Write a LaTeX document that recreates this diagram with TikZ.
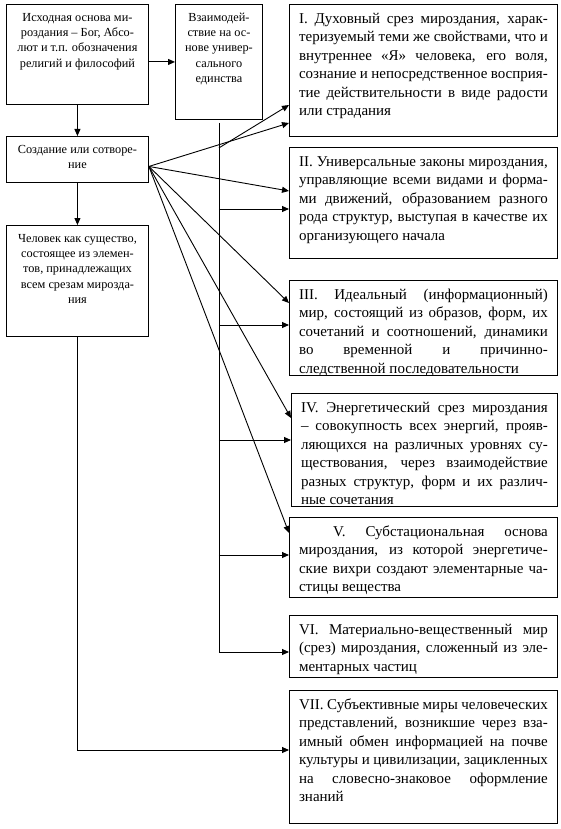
\documentclass[tikz,border=0pt]{standalone}
\usepackage{fontspec}
\setmainfont{Liberation Serif}
\usetikzlibrary{arrows.meta}

% one centred line, one justified line
\newcommand{\cl}[1]{\makebox[\linewidth]{#1}\par}
\newcommand{\jl}[1]{\makebox[\linewidth][s]{#1}\par}
\newcommand{\basetext}[3]{\parbox[t][#2][t]{#1}{\rule{0pt}{11.9pt}#3}}
\newcommand{\slicetext}[3]{\parbox[t][#2][t]{#1}{\rule{0pt}{14.3pt}#3}}

\tikzset{
  frame/.style={draw, line width=0.9pt, anchor=north west, inner xsep=9.6pt, inner ysep=4.8pt},
  base/.style={frame, font=\fontsize{12.3}{15.3}\selectfont},
  slice/.style={frame, font=\fontsize{15}{18.4}\selectfont},
  link/.style={-{Triangle[length=7pt,width=6pt]}, line width=0.9pt}
}

\begin{document}
\begin{tikzpicture}[x=1pt,y=-1pt]
    \useasboundingbox (0,0) rectangle (561,829);
    % left column
    \node[base] (origin) at (6,4) {\basetext{122.8pt}{90.4pt}{\cl{Исходная основа ми-}\cl{роздания – Бог, Абсо-}\cl{лют и т.п. обозначения}\cl{религий и философий}}};
    \node[base] (unity) at (175,4) {\basetext{67.8pt}{105.4pt}{\cl{Взаимодей-}\cl{ствие на ос-}\cl{нове универ-}\cl{сального}\cl{единства}}};
    \node[base] (creation) at (6,136) {\basetext{122.8pt}{36.4pt}{\cl{Создание или сотворе-}\cl{ние}}};
    \node[base] (human) at (6,225) {\basetext{122.8pt}{101.4pt}{\cl{Человек как существо,}\cl{состоящее из элемен-}\cl{тов, принадлежащих}\cl{всем срезам мирозда-}\cl{ния}}};

    % slices of the universe
    \node[slice] (s1) at (289,4) {\slicetext{248.8pt}{122.4pt}{\jl{I. Духовный срез мироздания, харак-}\jl{теризуемый теми же свойствами, что и}\jl{внутреннее «Я» человека, его воля,}\jl{сознание и непосредственное восприя-}\jl{тие действительности в виде радости}или страдания}};
    \node[slice] (s2) at (289,147) {\slicetext{248.8pt}{101.4pt}{\jl{II. Универсальные законы мироздания,}\jl{управляющие всеми видами и форма-}\jl{ми движений, образованием разного}\jl{рода структур, выступая в качестве их}организующего начала}};
    \node[slice] (s3) at (289,280) {\slicetext{248.8pt}{85.4pt}{\jl{III. Идеальный (информационный)}\jl{мир, состоящий из образов, форм, их}\jl{сочетаний и соотношений, динамики}\jl{во временной и причинно-}следственной последовательности}};
    \node[slice] (s4) at (291,393) {\slicetext{246.8pt}{103.4pt}{\jl{IV. Энергетический срез мироздания}\jl{– совокупность всех энергий, прояв-}\jl{ляющихся на различных уровнях су-}\jl{ществования, через взаимодействие}\jl{разных структур, форм и их различ-}ные сочетания}};
    \node[slice] (s5) at (289,517) {\slicetext{248.8pt}{70.4pt}{\jl{\hspace*{34pt}V. Субстациональная основа}\jl{мироздания, из которой энергетиче-}\jl{ские вихри создают элементарные ча-}стицы вещества}};
    \node[slice] (s6) at (289,615) {\slicetext{248.8pt}{52.4pt}{\jl{VI. Материально-вещественный мир}\jl{(срез) мироздания, сложенный из эле-}ментарных частиц}};
    \node[slice] (s7) at (289,690) {\slicetext{248.8pt}{123.4pt}{\jl{VII. Субъективные миры человеческих}\jl{представлений, возникшие через вза-}\jl{имный обмен информацией на почве}\jl{культуры и цивилизации, зацикленных}\jl{на словесно-знаковое оформление}знаний}};

    % left column links
    \draw[link] (origin.east |- unity.west) -- (unity.west);
    \draw[link] (origin) -- (creation);
    \draw[link] (creation) -- (human);

    % rays from creation
    \coordinate (src) at ([yshift=-7pt]creation.east);
    \coordinate (c1) at ([yshift=-119pt]s1.north west);
    \draw[link] (src) -- (c1);

    % spine from the unity box
    \coordinate (b1) at ([yshift=-101pt]s1.north west);
    \coordinate (b6) at ([yshift=-37pt]s6.north west);
    \coordinate (fork) at ([yshift=-28pt]unity.south);
    \draw[line width=0.9pt] ([yshift=-3pt]unity.south) -- (unity.south |- b6);
    \draw[link] (fork) -- (b1);
    \draw[link] (unity.south |- b6) -- (b6);

    \foreach \k/\cy/\by in {2/44/62, 3/23/45, 4/25/47, 5/16/38} {
        \coordinate (c\k) at ([yshift=-\cy pt]s\k.north west);
        \coordinate (b\k) at ([yshift=-\by pt]s\k.north west);
        \draw[link] (src) -- (c\k);
        \draw[link] (unity.south |- b\k) -- (b\k);
    }

    % human to subjective worlds
    \coordinate (b7) at ([yshift=-60pt]s7.north west);
    \draw[link] (human.south) |- (b7);
\end{tikzpicture}
\end{document}
